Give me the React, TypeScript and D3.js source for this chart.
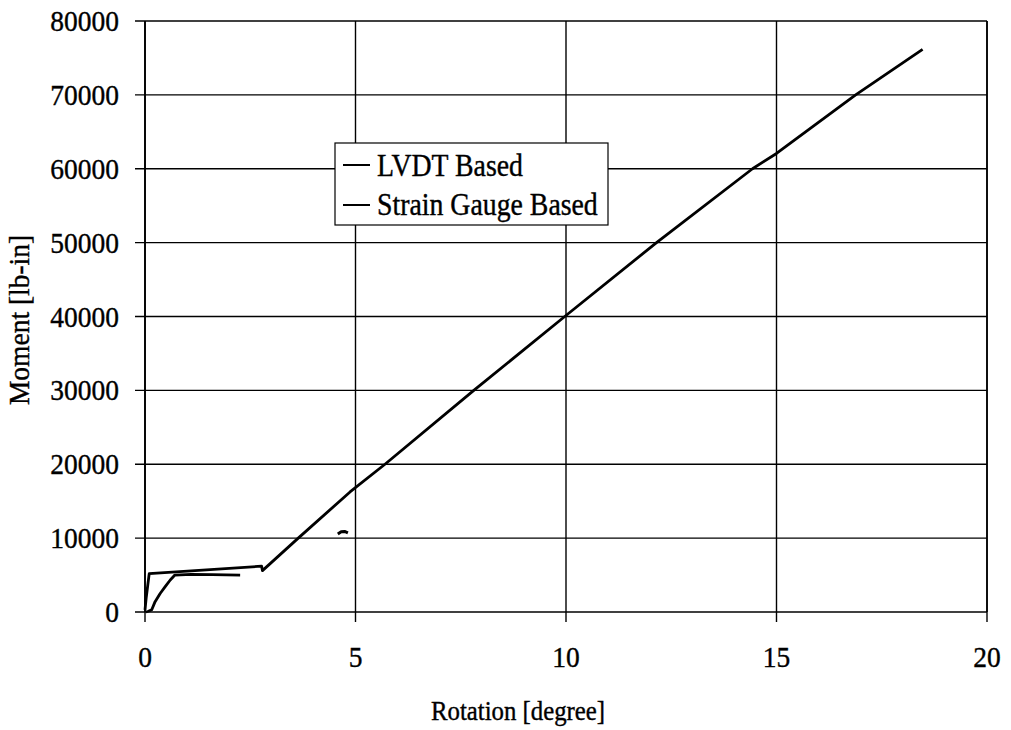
import React from "react";
import * as d3 from "d3";

const xTicks = [0, 5, 10, 15, 20];
const yTicks = [0, 10000, 20000, 30000, 40000, 50000, 60000, 70000, 80000];

const lvdtRotation = [0, 0.03, 0.1, 2.77, 2.79, 3.64, 4.87, 5.7, 7.81, 9.97, 12.15, 14.43, 15.0, 16.88, 18.47];
const lvdtMoment = [300, 2000, 5200, 6200, 5600, 10000, 16250, 20000, 30000, 40000, 50000, 60000, 62070, 70000, 76150];

const strainRotation = [0.02, 0.08, 0.16, 0.24, 0.36, 0.48, 0.6, 0.71, 1.1, 1.6, 2.26];
const strainMoment = [0, 100, 300, 1400, 2500, 3430, 4330, 5000, 5100, 5050, 5000];

const clusterRotation = [4.58, 4.66, 4.74, 4.82];
const clusterMoment = [10550, 10850, 10900, 10700];

const seriesNames = ["LVDT Based", "Strain Gauge Based"];

const FONT = "'Liberation Serif', 'Times New Roman', serif";
const SY = 1.1;

function T({ x, y, size, anchor = "start", children, rotate = 0 }: any) {
  return (
    <text
      transform={`translate(${x},${y}) rotate(${rotate}) scale(1,${SY})`}
      textAnchor={anchor}
      fontSize={size}
      fill="#000"
      stroke="#000"
      strokeWidth={0.35}
    >
      {children}
    </text>
  );
}

export default function App() {
  const W = 1011, H = 730;
  const x = d3.scaleLinear().domain([0, 20]).range([145, 987]);
  const y = d3.scaleLinear().domain([0, 80000]).range([612, 21]);
  const line = d3.line<[number, number]>().x(d => x(d[0])).y(d => y(d[1]));
  const lvdt = lvdtRotation.map((r, i) => [r, lvdtMoment[i]] as [number, number]);
  const strain = strainRotation.map((r, i) => [r, strainMoment[i]] as [number, number]);
  const cluster = clusterRotation.map((r, i) => [r, clusterMoment[i]] as [number, number]);
  const [x0, x1] = x.range();
  const [y0, y1] = y.range();
  return (
    <svg width={W} height={H} style={{ position: "absolute", left: 0, top: 0, background: "#fff" }} fontFamily={FONT}>
      <rect x={0} y={0} width={W} height={H} fill="#fff" />
      {xTicks.map(t => (
        <line key={"gx" + t} x1={x(t)} x2={x(t)} y1={y1} y2={y0 + 10} stroke="#000" strokeWidth={1.4} />
      ))}
      {yTicks.map(t => (
        <line key={"gy" + t} x1={x0 - 10} x2={x1} y1={y(t)} y2={y(t)} stroke="#000" strokeWidth={1.4} />
      ))}
      <line x1={x0} x2={x0} y1={y1} y2={y0} stroke="#000" strokeWidth={1.8} />
      <line x1={x1} x2={x1} y1={y1} y2={y0} stroke="#000" strokeWidth={1.6} />
      {yTicks.map(t => (
        <T key={"ly" + t} x={119} y={y(t) + 10} size={27.5} anchor="end">{t}</T>
      ))}
      {xTicks.map(t => (
        <T key={"lx" + t} x={x(t)} y={667} size={27.5} anchor="middle">{t}</T>
      ))}
      <path d={line(lvdt) || ""} fill="none" stroke="#000" strokeWidth={2.8} strokeLinejoin="round" />
      <path d={line(strain) || ""} fill="none" stroke="#000" strokeWidth={2.8} strokeLinejoin="round" />
      <path d={line(cluster) || ""} fill="none" stroke="#000" strokeWidth={3} strokeLinejoin="round" />
      <rect x={335} y={143} width={273} height={82} fill="#fff" stroke="#000" strokeWidth={1.2} />
      {seriesNames.map((n, i) => (
        <g key={n}>
          <line x1={343} x2={370} y1={165 + i * 40} y2={165 + i * 40} stroke="#000" strokeWidth={2} />
          <T x={377} y={176 + i * 39} size={27.8}>{n}</T>
        </g>
      ))}
      <T x={518} y={720} size={24.8} anchor="middle">Rotation [degree]</T>
      <T x={29} y={320} size={27.5} anchor="middle" rotate={-90}>Moment [lb-in]</T>
    </svg>
  );
}
